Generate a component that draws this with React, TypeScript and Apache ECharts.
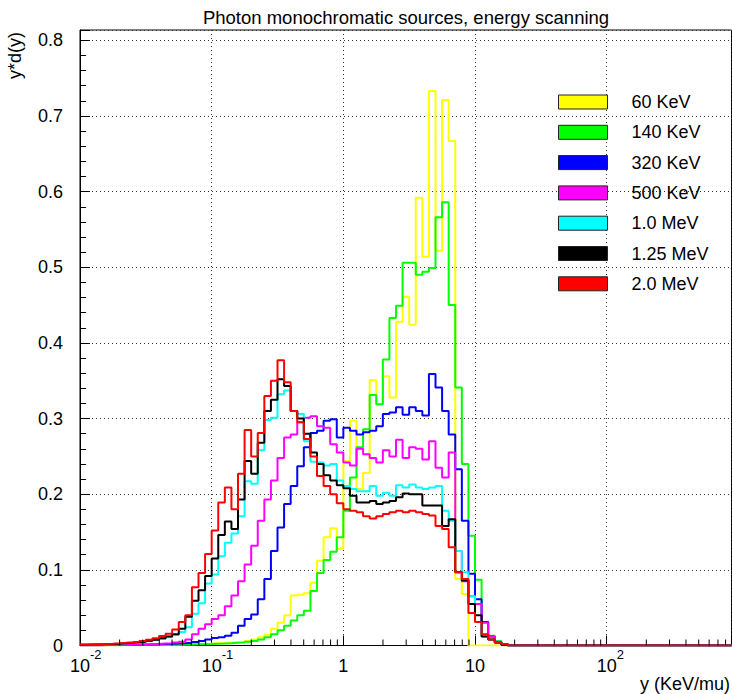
import React, { useEffect, useRef } from 'react';
import * as echarts from 'echarts';

const TITLE = 'Photon monochromatic sources, energy scanning';
const X_NAME = 'y (KeV/mu)';
const Y_NAME = 'y*d(y)';
const FONT = '"Liberation Sans", Arial, sans-serif';

const X_MIN = 0.01;
const X_MAX = 887;
const LOG_MIN = -2;
const BINS_PER_DECADE = 20;
const Y_MAX = 0.8137;
const Y_STEP = 0.1;

const SERIES_NAMES = ['60 KeV', '140 KeV', '320 KeV', '500 KeV', '1.0 MeV', '1.25 MeV', '2.0 MeV'];
const SERIES_COLORS = ['#ffff00', '#00ff00', '#0000ff', '#ff00ff', '#00ffff', '#000000', '#ff0000'];

// bin k covers 10^(-2 + k/20) .. 10^(-2 + (k+1)/20); bins after the listed ones are 0
const kev60 = [
  0.0002, 0.0002, 0.0003, 0.0003, 0.0004, 0.0004, 0.0005, 0.0006, 0.0007, 0.0008,
  0.0009, 0.001, 0.0011, 0.0012, 0.0014, 0.0016, 0.0018, 0.002, 0.0022, 0.0025,
  0.003, 0.0035, 0.004, 0.0045, 0.005, 0.006, 0.008, 0.011, 0.014, 0.022,
  0.030, 0.040, 0.066, 0.067, 0.069, 0.083, 0.112, 0.143, 0.155, 0.128,
  0.244, 0.297, 0.207, 0.228, 0.351, 0.319, 0.356, 0.328, 0.428, 0.461,
  0.424, 0.592, 0.514, 0.733, 0.522, 0.721, 0.667, 0.088, 0.068, 0,
];
const kev140 = [
  0.0002, 0.0002, 0.0002, 0.0003, 0.0003, 0.0004, 0.0004, 0.0005, 0.0005, 0.0006,
  0.0007, 0.0008, 0.0009, 0.001, 0.0011, 0.0012, 0.0014, 0.0016, 0.0018, 0.002,
  0.0023, 0.0026, 0.003, 0.0035, 0.004, 0.005, 0.006, 0.008, 0.011, 0.015,
  0.020, 0.026, 0.033, 0.040, 0.046, 0.072, 0.096, 0.113, 0.124, 0.143,
  0.178, 0.222, 0.262, 0.286, 0.331, 0.319, 0.378, 0.433, 0.449, 0.506,
  0.506, 0.490, 0.494, 0.499, 0.566, 0.586, 0.450, 0.341, 0.240, 0.145,
  0.087, 0.031, 0.013, 0.006, 0.002,
];
const kev320 = [
  0.0003, 0.0003, 0.0004, 0.0005, 0.0006, 0.0007, 0.0008, 0.0009, 0.001, 0.0012,
  0.0014, 0.0016, 0.0019, 0.0022, 0.0026, 0.003, 0.0035, 0.0045, 0.006, 0.008,
  0.010, 0.011, 0.013, 0.017, 0.026, 0.035, 0.041, 0.061, 0.088, 0.125,
  0.156, 0.187, 0.211, 0.237, 0.262, 0.281, 0.284, 0.297, 0.299, 0.275,
  0.288, 0.284, 0.279, 0.282, 0.284, 0.290, 0.306, 0.308, 0.315, 0.305,
  0.315, 0.310, 0.304, 0.359, 0.341, 0.310, 0.279, 0.233, 0.165, 0.095,
  0.061, 0.031, 0.012, 0.004, 0.001,
];
const kev500 = [
  0.0003, 0.0003, 0.0004, 0.0005, 0.0006, 0.0007, 0.0008, 0.001, 0.0012, 0.0014,
  0.0017, 0.002, 0.0025, 0.003, 0.004, 0.005, 0.008, 0.015, 0.022, 0.028,
  0.035, 0.040, 0.052, 0.066, 0.085, 0.107, 0.132, 0.165, 0.193, 0.218,
  0.248, 0.275, 0.279, 0.295, 0.301, 0.303, 0.290, 0.288, 0.266, 0.255,
  0.242, 0.238, 0.260, 0.253, 0.248, 0.242, 0.258, 0.250, 0.272, 0.248,
  0.262, 0.260, 0.246, 0.270, 0.235, 0.222, 0.255, 0.125, 0.085, 0.065,
  0.055, 0.030, 0.012, 0.005, 0.002,
];
const mev1_0 = [
  0.001, 0.0012, 0.0014, 0.0017, 0.002, 0.0024, 0.0029, 0.0035, 0.0042, 0.005,
  0.006, 0.0072, 0.0087, 0.011, 0.014, 0.018, 0.024, 0.042, 0.056, 0.082,
  0.094, 0.118, 0.136, 0.148, 0.171, 0.217, 0.214, 0.258, 0.298, 0.301,
  0.332, 0.337, 0.310, 0.306, 0.270, 0.243, 0.242, 0.238, 0.240, 0.218,
  0.211, 0.207, 0.204, 0.204, 0.211, 0.198, 0.202, 0.198, 0.212, 0.209,
  0.213, 0.209, 0.207, 0.209, 0.211, 0.178, 0.165, 0.125, 0.097, 0.065,
  0.031, 0.012, 0.008, 0.005, 0.002,
];
const mev1_25 = [
  0.001, 0.0012, 0.0014, 0.0017, 0.002, 0.0024, 0.0029, 0.0035, 0.0042, 0.005,
  0.0062, 0.0077, 0.0095, 0.012, 0.015, 0.022, 0.038, 0.059, 0.073, 0.092,
  0.115, 0.146, 0.164, 0.154, 0.193, 0.244, 0.227, 0.268, 0.310, 0.325,
  0.352, 0.343, 0.310, 0.300, 0.280, 0.255, 0.240, 0.225, 0.218, 0.212,
  0.208, 0.198, 0.189, 0.189, 0.191, 0.187, 0.189, 0.191, 0.196, 0.201,
  0.200, 0.200, 0.185, 0.185, 0.185, 0.158, 0.167, 0.097, 0.086, 0.055,
  0.040, 0.012, 0.008, 0.004, 0.001,
];
const mev2_0 = [
  0.0012, 0.0014, 0.0017, 0.002, 0.0024, 0.0029, 0.0035, 0.0042, 0.005, 0.006,
  0.0075, 0.0095, 0.0125, 0.0155, 0.021, 0.031, 0.040, 0.077, 0.096, 0.121,
  0.152, 0.189, 0.209, 0.180, 0.227, 0.285, 0.250, 0.281, 0.330, 0.350,
  0.377, 0.348, 0.310, 0.295, 0.273, 0.250, 0.224, 0.211, 0.200, 0.188,
  0.180, 0.178, 0.176, 0.171, 0.168, 0.171, 0.174, 0.176, 0.178, 0.176,
  0.178, 0.176, 0.174, 0.172, 0.158, 0.154, 0.130, 0.097, 0.088, 0.043,
  0.031, 0.015, 0.008, 0.004, 0.002,
];
const SERIES_VALUES = [kev60, kev140, kev320, kev500, mev1_0, mev1_25, mev2_0];

const binEdge = (k: number) => Math.pow(10, LOG_MIN + k / BINS_PER_DECADE);

function histPoints(values: number[]) {
  const pts: number[][] = values.map((v, k) => [binEdge(k), v]);
  pts.push([binEdge(values.length), 0]);
  pts.push([X_MAX, 0]);
  return pts;
}

// minor ticks of the log axis: 2..9 times each decade
const MINOR_X: number[] = [];
for (let e = -2; e <= 2; e++) {
  for (let m = 2; m <= 9; m++) {
    const v = m * Math.pow(10, e);
    if (v < X_MAX) MINOR_X.push(v);
  }
}

function fmtX(v: number) {
  const l = Math.log10(v);
  const e = Math.round(l);
  if (Math.abs(l - e) > 1e-6) return '';
  if (e === 0) return '{b|1}';
  if (e === 1) return '{b|10}';
  const sup = String(e);
  return `{${sup.length > 1 ? 'pm' : 'pp'}|}{b|10}{s|${sup}}`;
}

function fmtY(v: number) {
  const n = Math.round(v / Y_STEP);
  if (Math.abs(v / Y_STEP - n) > 1e-6) return '';
  return n === 0 ? '0' : (n * Y_STEP).toFixed(1);
}

export default function App() {
  const ref = useRef<HTMLDivElement>(null);
  useEffect(() => {
    if (!ref.current) return;
    const chart = echarts.init(ref.current, undefined, { renderer: 'svg' });
    const lineSeries = SERIES_NAMES.map((name, i) => ({
      type: 'line',
      name,
      data: histPoints(SERIES_VALUES[i]),
      step: 'end',
      showSymbol: false,
      symbol: 'none',
      color: SERIES_COLORS[i],
      lineStyle: { width: 2, color: SERIES_COLORS[i] },
      silent: true,
      clip: true,
      z: 3 + i,
    }));
    const option: any = {
      animation: false,
      backgroundColor: '#ffffff',
      textStyle: { fontFamily: FONT },
      grid: {
        left: 80,
        top: 30,
        right: 0.5,
        bottom: 48.5,
        show: true,
        borderColor: '#000',
        borderWidth: 1,
        backgroundColor: 'transparent',
        containLabel: false,
        outerBoundsMode: 'none',
      },
      xAxis: {
        type: 'log',
        logBase: 10,
        min: X_MIN,
        max: X_MAX,
        axisLine: { show: true, lineStyle: { color: '#000', width: 1 } },
        axisTick: { show: true, inside: true, length: 10, lineStyle: { color: '#000', width: 1 } },
        minorTick: { show: false },
        splitLine: { show: true, lineStyle: { color: '#333', width: 1, type: [1, 3] } },
        axisLabel: {
          formatter: fmtX,
          margin: 2,
          color: '#000',
          fontFamily: FONT,
          fontSize: 18,
          rich: {
            b: { fontSize: 18, lineHeight: 27, fontFamily: FONT, color: '#000', verticalAlign: 'bottom' },
            s: { fontSize: 13, lineHeight: 13, fontFamily: FONT, color: '#000', verticalAlign: 'top' },
            pm: { width: 11.6, lineHeight: 13, verticalAlign: 'top' },
            pp: { width: 7.2, lineHeight: 13, verticalAlign: 'top' },
          },
        },
      },
      yAxis: {
        type: 'value',
        min: 0,
        max: Y_MAX,
        interval: Y_STEP,
        axisLine: { show: true, lineStyle: { color: '#000', width: 1 } },
        axisTick: { show: true, inside: true, length: 10, lineStyle: { color: '#000', width: 1 } },
        minorTick: { show: true, splitNumber: 5, length: 6, lineStyle: { color: '#000', width: 1 } },
        splitLine: { show: true, lineStyle: { color: '#333', width: 1, type: [1, 3] } },
        axisLabel: { formatter: fmtY, margin: 17, color: '#000', fontFamily: FONT, fontSize: 18 },
      },
      legend: {
        data: SERIES_NAMES,
        orient: 'vertical',
        left: 558,
        top: 93,
        padding: 0,
        itemWidth: 49,
        itemHeight: 14,
        itemGap: 12.3,
        icon: 'rect',
        selectedMode: false,
        itemStyle: { borderColor: '#222', borderWidth: 1 },
        textStyle: { fontSize: 18, fontFamily: FONT, color: '#000', lineHeight: 14, padding: [0, 0, 0, 19] },
      },
      graphic: [
        {
          type: 'text',
          x: 406,
          y: 17,
          style: { text: TITLE, fontSize: 18.5, fontFamily: FONT, fill: '#000', align: 'center', verticalAlign: 'middle' },
        },
        {
          type: 'text',
          x: 730,
          y: 684,
          style: { text: X_NAME, fontSize: 18, fontFamily: FONT, fill: '#000', align: 'right', verticalAlign: 'middle' },
        },
        {
          type: 'text',
          x: 15,
          y: 32,
          rotation: Math.PI / 2,
          style: { text: Y_NAME, fontSize: 18, fontFamily: FONT, fill: '#000', align: 'right', verticalAlign: 'middle' },
        },
      ],
      series: [
        ...lineSeries,
        {
          type: 'custom',
          name: 'minor-x',
          silent: true,
          z: 20,
          data: MINOR_X.map((v) => [v, 0]),
          renderItem: (_params: any, api: any) => {
            const p = api.coord([api.value(0), 0]);
            return {
              type: 'line',
              shape: { x1: p[0], y1: p[1], x2: p[0], y2: p[1] - 6 },
              style: { stroke: '#000', lineWidth: 1 },
            };
          },
        },
      ],
    };
    chart.setOption(option);
    return () => chart.dispose();
  }, []);
  return <div ref={ref} style={{ position: 'absolute', left: 0, top: 0, width: 732, height: 694 }} />;
}
